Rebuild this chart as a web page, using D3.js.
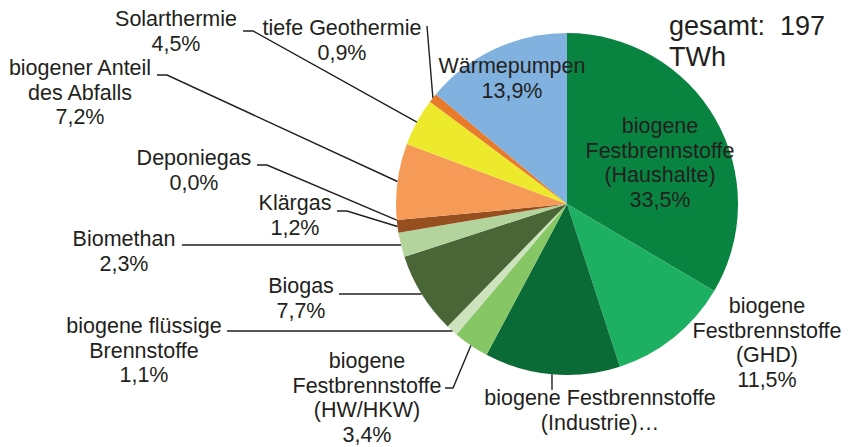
<!DOCTYPE html>
<html>
<head>
<meta charset="utf-8">
<script src="https://cdn.jsdelivr.net/npm/d3@7"></script>
<style>
  body { margin: 0; background: #fff; }
  text { font-family: "Liberation Sans", Arial, sans-serif; fill: #231f20; }
</style>
</head>
<body>
<div id="chart"></div>
<script>
const categories = [
  "biogene Festbrennstoffe (Haushalte)",
  "biogene Festbrennstoffe (GHD)",
  "biogene Festbrennstoffe (Industrie)",
  "biogene Festbrennstoffe (HW/HKW)",
  "biogene flüssige Brennstoffe",
  "Biogas",
  "Biomethan",
  "Klärgas",
  "Deponiegas",
  "biogener Anteil des Abfalls",
  "Solarthermie",
  "tiefe Geothermie",
  "Wärmepumpen"
];
const shares = [33.5, 11.5, 12.8, 3.4, 1.1, 7.7, 2.3, 1.2, 0.0, 7.2, 4.5, 0.9, 13.9];
const labelLines = [
  ["biogene", "Festbrennstoffe", "(Haushalte)"],
  ["biogene", "Festbrennstoffe", "(GHD)"],
  ["biogene Festbrennstoffe", "(Industrie)…"],
  ["biogene", "Festbrennstoffe", "(HW/HKW)"],
  ["biogene flüssige", "Brennstoffe"],
  ["Biogas"],
  ["Biomethan"],
  ["Klärgas"],
  ["Deponiegas"],
  ["biogener Anteil", "des Abfalls"],
  ["Solarthermie"],
  ["tiefe Geothermie"],
  ["Wärmepumpen"]
];
const showValue = [true, true, false, true, true, true, true, true, true, true, true, true, true];
const colors = ["#098440", "#1db062", "#0b6b36", "#87c665", "#cde3bd", "#4a6636",
  "#b3d49c", "#964f1f", "#b0b0b0", "#f69b57", "#ede92c", "#e87a2b", "#80b1df"];
const totalText = ["gesamt:  197", "TWh"];

// label layout: text centre x, first baseline y, leader start, optional elbow, anchor mode
const layout = [
  { x: 660, y: 133 },
  { x: 767, y: 313 },
  { x: 600, y: 405, lead: [[552, 390]], anchor: "mid" },
  { x: 367, y: 368, lead: [[445, 388], [453, 388]], anchor: "mid" },
  { x: 144, y: 333, lead: [[227, 331]], anchor: "flat" },
  { x: 301, y: 293, lead: [[339, 294]], anchor: "flat" },
  { x: 124, y: 246, lead: [[182, 245]], anchor: "flat" },
  { x: 295, y: 210, lead: [[337, 211], [347, 211]], anchor: "mid" },
  { x: 194, y: 165, lead: [[257, 165], [267, 165]], anchor: "mid" },
  { x: 80, y: 75, lead: [[157, 75], [167, 75]], anchor: "mid" },
  { x: 176, y: 26, lead: [[243, 31], [253, 31]], anchor: "mid" },
  { x: 342, y: 35, lead: [[427, 26]], anchor: "mid" },
  { x: 512, y: 73 }
];

const width = 850, height = 447;
const cx = 567, cy = 204, radius = 171;
const lineH = 24.5;

const fmt = d3.formatLocale({ decimal: ",", thousands: ".", grouping: [3], currency: ["", "€"] }).format(".1f");

const svg = d3.select("#chart").append("svg")
  .attr("width", width)
  .attr("height", height);

const pie = d3.pie().sort(null).value(d => d)(shares);
const arc = d3.arc().innerRadius(0).outerRadius(radius);

const g = svg.append("g").attr("transform", `translate(${cx},${cy})`);

g.selectAll("path")
  .data(pie)
  .join("path")
  .attr("d", arc)
  .attr("fill", (d, i) => colors[i]);

// leader lines
const lead = svg.append("g")
  .attr("fill", "none")
  .attr("stroke", "#231f20")
  .attr("stroke-width", 1.4);

pie.forEach((p, i) => {
  const l = layout[i];
  if (!l.lead) return;
  let end;
  if (l.anchor === "flat") {
    const y = l.lead[l.lead.length - 1][1];
    const dy = y - cy;
    end = [cx - Math.sqrt(radius * radius - dy * dy), y];
  } else {
    const a = (p.startAngle + p.endAngle) / 2;
    end = [cx + radius * Math.sin(a), cy - radius * Math.cos(a)];
  }
  lead.append("path").attr("d", d3.line()([...l.lead, end]));
});

// labels
const labels = svg.append("g")
  .attr("font-size", 21.5)
  .attr("text-anchor", "middle");

pie.forEach((p, i) => {
  const l = layout[i];
  const lines = labelLines[i].slice();
  if (showValue[i]) lines.push(fmt(shares[i]) + "%");
  const t = labels.append("text");
  lines.forEach((s, k) => {
    t.append("tspan").attr("x", l.x).attr("y", l.y + k * lineH).text(s);
  });
});

// total
const tot = svg.append("text")
  .attr("font-size", 27)
  .attr("xml:space", "preserve")
  .style("white-space", "pre");
totalText.forEach((s, k) => {
  tot.append("tspan").attr("x", 669).attr("y", 35 + k * 31).text(s);
});
</script>
</body>
</html>
